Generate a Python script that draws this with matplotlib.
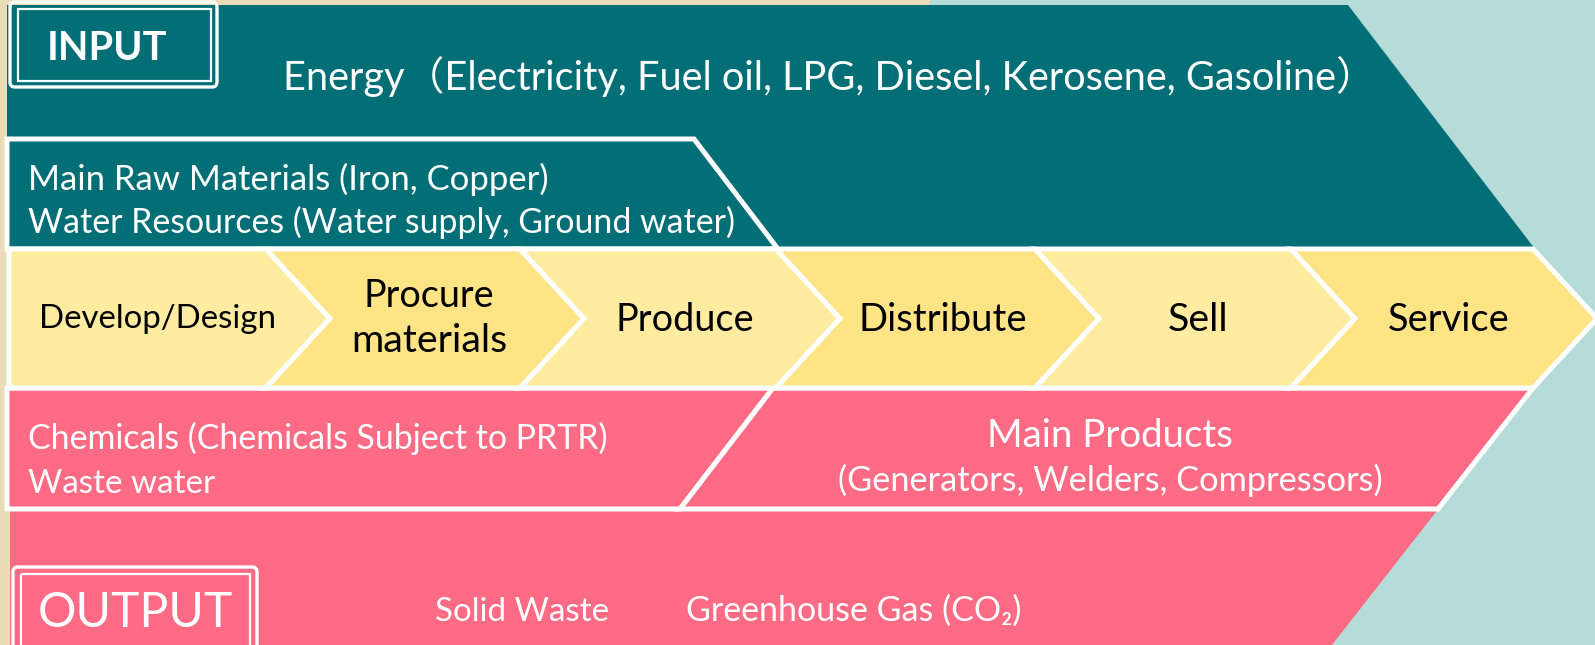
import matplotlib
matplotlib.use("Agg")
import matplotlib.pyplot as plt
from matplotlib.patches import Polygon, Rectangle, FancyBboxPatch

# ---------------- data (text content) ----------------
input_label = "INPUT"
output_label = "OUTPUT"
energy_items = ["Energy（Electricity, Fuel oil, LPG, Diesel, Kerosene, Gasoline）"]
raw_items = ["Main Raw Materials (Iron, Copper)",
             "Water Resources (Water supply, Ground water)"]
stages = ["Develop/Design", "Procure\nmaterials", "Produce",
          "Distribute", "Sell", "Service"]
chem_items = ["Chemicals (Chemicals Subject to PRTR)", "Waste water"]
product_items = ["Main Products", "(Generators, Welders, Compressors)"]
output_items = ["Solid Waste", "Greenhouse Gas (CO₂)"]

# ---------------- style ----------------
BEIGE = "#E9DCB6"
LTEAL = "#B5DCD8"
TEAL = "#026E76"
PINK = "#FF6B85"
YEL_L = "#FFECA1"
YEL_D = "#FFE486"
FAM = ["Lato", "Noto Sans CJK JP", "DejaVu Sans"]
WLW = 3.6  # white separator width (pt)

W, H = 1595, 645
fig = plt.figure(figsize=(W / 100, H / 100), dpi=100)
ax = fig.add_axes([0, 0, 1, 1])
ax.set_xlim(0, W)
ax.set_ylim(H, 0)
ax.axis("off")
renderer = fig.canvas.get_renderer()

def poly(pts, fc, ec="none", lw=0, z=1):
    ax.add_patch(Polygon(pts, closed=True, facecolor=fc, edgecolor=ec,
                         linewidth=lw, joinstyle="miter", zorder=z))

def fit(x, y, s, width, ha="left", color="white", weight="normal", scale=1.0):
    t = ax.text(x, y, s, ha=ha, va="baseline", fontsize=20, color=color,
                fontweight=weight, family=FAM, zorder=10)
    w = t.get_window_extent(renderer).width
    t.set_fontsize(20 * width / w * scale)
    return t

# background
ax.add_patch(Rectangle((0, 0), 930, H, facecolor=BEIGE, edgecolor="none", zorder=0))
ax.add_patch(Rectangle((930, 0), W - 930, H, facecolor=LTEAL, edgecolor="none", zorder=0))

# rows geometry
y_top, y_raw, y_yt, y_yb, y_pb = 5, 139, 249, 388, 509
y_mid = (y_yt + y_yb) / 2

# INPUT band
poly([(7, y_top), (1348, y_top), (1535, y_yt), (7, y_yt)], TEAL, z=1)
poly([(7, y_raw), (694, y_raw), (778, y_yt), (7, y_yt)], TEAL, "white", WLW, z=3)

# OUTPUT band
poly([(10, y_yb), (1533, y_yb), (1328, H + 5), (10, H + 5)], PINK, z=1)
poly([(7, y_yb), (773, y_yb), (680, y_pb), (7, y_pb)], PINK, "white", WLW, z=3)
poly([(773, y_yb), (1533, y_yb), (1438, y_pb), (680, y_pb)], PINK, "white", WLW, z=3)

# value chain chevrons
tips = [330, 584, 840, 1099, 1355, 1597]
d = 64
for i, tip in enumerate(tips):
    fc = YEL_L if i % 2 == 0 else YEL_D
    if i == 0:
        pts = [(9, y_yt), (tip - d, y_yt), (tip, y_mid), (tip - d, y_yb), (9, y_yb)]
    else:
        p = tips[i - 1]
        pts = [(p - d, y_yt), (tip - d, y_yt), (tip, y_mid), (tip - d, y_yb),
               (p - d, y_yb), (p, y_mid)]
    poly(pts, fc, "white", WLW, z=4)

# INPUT / OUTPUT labels with double frames
ax.add_patch(FancyBboxPatch((10, 2), 207, 85, boxstyle="round,pad=0,rounding_size=5",
                            facecolor="none", edgecolor="white", linewidth=2.4, zorder=6))
ax.add_patch(Rectangle((18, 9), 193, 72, facecolor="none", edgecolor="white",
                       linewidth=1.6, zorder=6))
fit(107, 60, input_label, 120, ha="center", weight="bold")

ax.add_patch(FancyBboxPatch((13, 567), 244, 100, boxstyle="round,pad=0,rounding_size=5",
                            facecolor="none", edgecolor="white", linewidth=2.4, zorder=6))
ax.add_patch(Rectangle((21, 574), 229, 90, facecolor="none", edgecolor="white",
                       linewidth=1.6, zorder=6))
fit(135, 627, output_label, 194, ha="center")

# texts
fit(283, 90, energy_items[0], 1025, scale=1.07)
fit(28, 190, raw_items[0], 521)
fit(28, 233, raw_items[1], 709)

stage_pos = [(158, [328], [238]),
             (429, [307, 352], [131, 157]),
             (685, [331], [139]),
             (943, [331], [169]),
             (1198, [331], [61]),
             (1449, [331], [122])]
for s, (cx, ys, ws) in zip(stages, stage_pos):
    for line, yy, ww in zip(s.split("\n"), ys, ws):
        fit(cx, yy, line, ww, ha="center", color="black")

fit(28, 449, chem_items[0], 580)
fit(28, 493, chem_items[1], 187)
fit(1110, 447, product_items[0], 246, ha="center")
fit(1110, 491, product_items[1], 546, ha="center")
fit(522, 621, output_items[0], 174, ha="center")
fit(854, 621, output_items[1], 336, ha="center")

fig.savefig("out.png", dpi=100)
